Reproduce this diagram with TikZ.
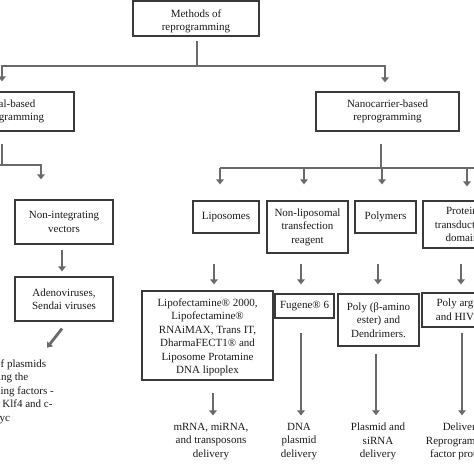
\documentclass[tikz,border=0pt]{standalone}
\usepackage{fontspec}
\setmainfont{Liberation Serif}
\usetikzlibrary{arrows.meta}
\definecolor{lncol}{HTML}{6A6A6A}
\definecolor{bdcol}{HTML}{3A3A3A}
\definecolor{txcol}{HTML}{1A1A1A}
\begin{document}
\begin{tikzpicture}[x=1pt,y=-1pt,
 box/.style={draw=bdcol,line width=1.2pt,inner sep=0pt,align=center,text=txcol,font=\fontsize{11}{13.5}\selectfont},
 lbl/.style={inner sep=0pt,align=center,text=txcol,font=\fontsize{11}{13.5}\selectfont},
 ln/.style={draw=lncol,line width=2.8pt,line join=miter},
 arr/.style={ln,-{Triangle[width=7.5pt,length=5pt]}},
]
\useasboundingbox (0,0) rectangle (474,474);
\clip (0,0) rectangle (474,474);
\fill[white] (0,0) rectangle (474,474);

\node[box,minimum width=126pt,minimum height=35pt] (meth) at (196,18.5) {};
\node[lbl] (methtxt) at (196,21.5) {Methods of\\reprogramming};
\node[box,minimum width=128pt,minimum height=39pt] (viral) at (10,111.5) {Viral-based\\reprogramming};
\node[box,minimum width=143pt,minimum height=39pt] (nano) at (387.5,111.5) {Nanocarrier-based\\reprogramming};
\node[box,minimum width=98pt,minimum height=44pt] (nonint) at (64,222) {Non-integrating\\vectors};
\node[box,minimum width=98pt,minimum height=44pt] (adeno) at (64,299) {Adenoviruses,\\Sendai viruses};
\node[box,minimum width=66pt,minimum height=32pt] (lipo) at (226,217) {Liposomes};
\node[box,minimum width=81pt,minimum height=52pt] (nonlipo) at (307.5,227) {Non-liposomal\\transfection\\reagent};
\node[box,minimum width=61pt,minimum height=32pt] (poly) at (385.5,217) {Polymers};
\node[box,minimum width=78pt,minimum height=47pt] (ptd) at (462,224.5) {Protein\\transduction\\domain};
\node[box,minimum width=131pt,minimum height=89pt] (lipofect) at (207.5,335.5) {};
\node[lbl] (lipotxt) at (207.5,337.5) {Lipofectamine® 2000,\\Lipofectamine®\\RNAiMAX, Trans IT,\\DharmaFECT1® and\\Liposome Protamine\\DNA lipoplex};
\node[box,minimum width=59pt,minimum height=24pt] (fugene) at (304.5,306) {Fugene® 6};
\node[box,minimum width=81pt,minimum height=52pt] (polyb) at (378.5,320) {Poly (β-amino\\ester) and\\Dendrimers.};
\node[box,minimum width=88pt,minimum height=34pt] (polyarg) at (466,310) {Poly arginine\\and HIV TAT};

\node[lbl] (plas) at (0,391.5) {Delivery of plasmids\\encoding the\\reprogramming factors -\\Oct4, Sox2, Klf4 and c-\\Myc};
\node[lbl] (mrna) at (211,441.5) {mRNA, miRNA,\\and transposons\\delivery};
\node[lbl] (dna) at (299,441.5) {DNA\\plasmid\\delivery};
\node[lbl] (psi) at (378,441.5) {Plasmid and\\siRNA\\delivery};
\node[lbl] (deliv) at (462,441.5) {Delivery\\Reprogramming\\factor proteins};

\coordinate (b1) at (197,66);
\coordinate (b2) at (2,165);
\coordinate (b2w) at (-10,165);
\coordinate (b3) at (381,168);
\coordinate (t1) at (220,168);
\coordinate (t2) at (304,168);
\coordinate (t3) at (382,168);
\coordinate (t4) at (467,168);
\coordinate (b3e) at (490,168);

\draw[ln] ([xshift=1pt,yshift=-4pt]meth.south) -- (b1);
\draw[arr] (b1) -| ([xshift=-8pt,yshift=10pt]viral.north);
\draw[arr] (b1) -| ([xshift=-2.5pt,yshift=9pt]nano.north);
\draw[ln] ([xshift=-8pt,yshift=-12pt]viral.south) -- (b2);
\draw[arr] (b2w) -| ([xshift=-23pt,yshift=20pt]nonint.north);
\draw[arr] ([xshift=-2pt,yshift=-5pt]nonint.south) -- ([xshift=-2pt,yshift=5pt]adeno.north);
\draw[arr] ([xshift=-2pt,yshift=-7pt]adeno.south) -- ([xshift=47pt,yshift=11.5pt]plas.north);

\draw[ln] ([xshift=-6.5pt,yshift=-12pt]nano.south) -- (b3);
\draw[ln] (t1) -- (b3e);
\draw[arr] (t1) -- ([xshift=-6pt,yshift=16pt]lipo.north);
\draw[arr] (t2) -- ([xshift=-3.5pt,yshift=16pt]nonlipo.north);
\draw[arr] (t3) -- ([xshift=-3.5pt,yshift=16pt]poly.north);
\draw[arr] (t4) -- ([xshift=5pt,yshift=14pt]ptd.north);

\draw[arr] ([xshift=-12pt,yshift=-30pt]lipo.south) -- ([xshift=6.5pt,yshift=6pt]lipofect.north);
\draw[arr] ([xshift=-6.5pt,yshift=-10pt]nonlipo.south) -- ([xshift=-3.5pt,yshift=9pt]fugene.north);
\draw[arr] ([xshift=-7.5pt,yshift=-30pt]poly.south) -- ([xshift=-0.5pt,yshift=9pt]polyb.north);
\draw[arr] ([xshift=-1pt,yshift=-15pt]ptd.south) -- ([xshift=-5pt,yshift=8pt]polyarg.north);

\draw[arr] ([xshift=5.5pt,yshift=-12pt]lipofect.south) -- ([xshift=2pt,yshift=7.5pt]mrna.north);
\draw[arr] ([xshift=-3.5pt,yshift=-14pt]fugene.south) -- ([xshift=2pt,yshift=7.5pt]dna.north);
\draw[arr] ([xshift=-2.5pt,yshift=-7pt]polyb.south) -- ([xshift=-2pt,yshift=7.5pt]psi.north);
\draw[arr] ([xshift=-4pt,yshift=-5pt]polyarg.south) -- ([xshift=0pt,yshift=7.5pt]deliv.north);
\end{tikzpicture}
\end{document}
